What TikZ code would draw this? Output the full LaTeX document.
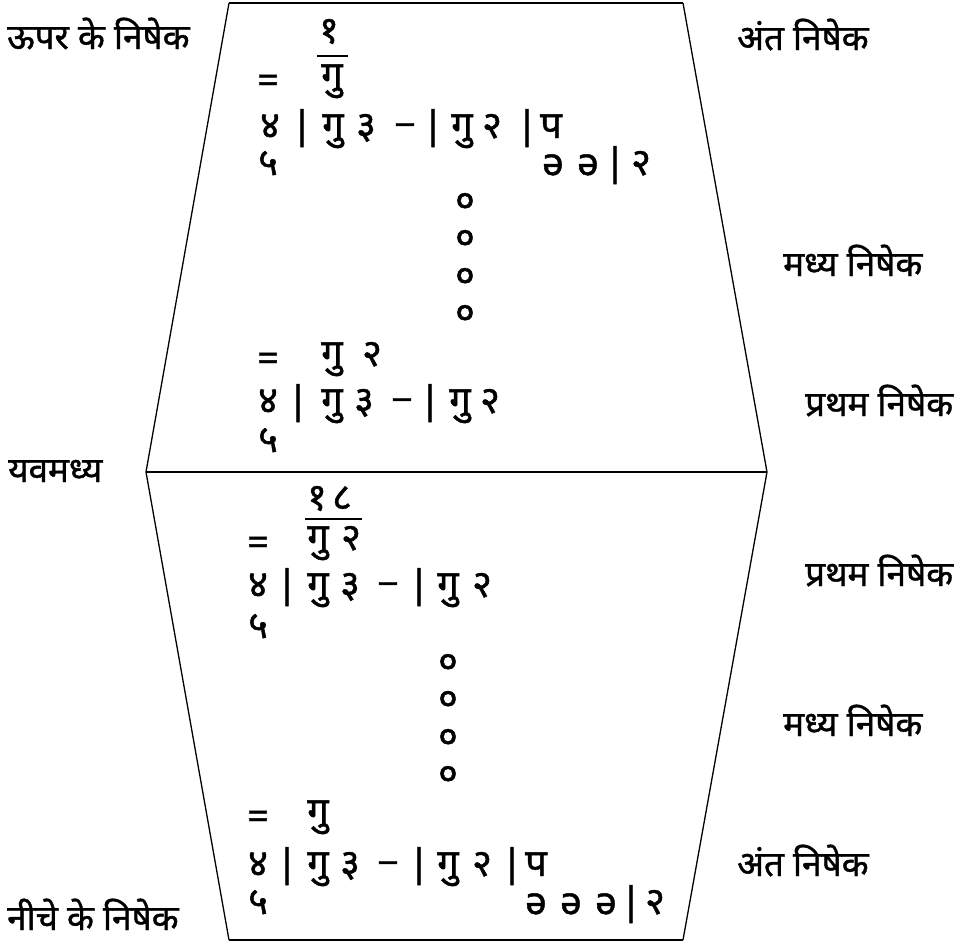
\documentclass[tikz,border=0pt]{standalone}
\usepackage{fontspec}
\newfontfamily\dev[Script=Devanagari,FakeBold=1.1]{Noto Sans}
\newfontfamily\devm[Script=Devanagari,FakeBold=1.2]{Noto Sans}
\newcommand\tk[4]{\node[tok] (#1) at (#2,#3) {#4};}
\newcommand\tc[4]{\node[tok,anchor=center] (#1) at (#2,#3) {#4};}
\begin{document}
\begin{tikzpicture}[x=1pt,y=-1pt,
  tok/.style={inner sep=0pt,anchor=base,font=\devm\fontsize{38}{44}\selectfont},
  lab/.style={inner sep=0pt,anchor=base west,font=\dev\fontsize{35}{42}\selectfont},
  edgeh/.style={line width=2.4pt},
  edges/.style={line width=1.3pt},
  fbar/.style={line width=1.5pt}]
\useasboundingbox (0,0) rectangle (964,943);
% outline
\coordinate (tl) at (229,3);
\coordinate (tr) at (683,3);
\coordinate (mr) at (767,472);
\coordinate (br) at (683,940);
\coordinate (bl) at (229,940);
\coordinate (ml) at (146,472);
\draw[edgeh] (tl) -- (tr);
\draw[edgeh] (bl) -- (br);
\draw[edgeh] (ml) -- (mr);
\draw[edges] (tr) -- (mr) -- (br);
\draw[edges] (tl) -- (ml) -- (bl);
% labels
\node[lab] (l1) at (7,49) {ऊपर के निषेक};
\node[lab] (l2) at (8,482) {यवमध्य};
\node[lab] (l3) at (7,930) {नीचे के निषेक};
\node[lab] (r1) at (737,50) {अंत निषेक};
\node[lab] (r2) at (783,276) {मध्य निषेक};
\node[lab] (r3) at (805,416) {प्रथम निषेक};
\node[lab] (r4) at (805,586) {प्रथम निषेक};
\node[lab] (r5) at (783,736) {मध्य निषेक};
\node[lab] (r6) at (737,876) {अंत निषेक};
% top block A
\tk{a1}{329}{43}{१}
\coordinate (fa1) at (317,56); \coordinate (fa2) at (348,56);
\draw[fbar] (fa1) -- (fa2);
\tc{aeq}{268}{84}{=}
\tk{agu}{332}{88}{गु}
\tk{ar1}{270}{138}{४}
\tk{ar2}{302}{138}{|}
\tk{ar3}{333}{138}{गु}
\tk{ar4}{366}{138}{३}
\tk{ar5}{405}{138}{−}
\tk{ar6}{433}{138}{|}
\tk{ar7}{462}{138}{गु}
\tk{ar8}{492}{138}{२}
\tk{ar9}{527}{138}{|}
\tk{ar10}{551}{138}{प}
\tk{as1}{268}{175}{५}
\tk{as2}{553}{175}{ə}
\tk{as3}{588}{175}{ə}
\tk{as4}{615}{175}{|}
\tk{as5}{641}{175}{२}
% top circles
\tc{c1}{465}{203}{०}
\tc{c2}{465}{240}{०}
\tc{c3}{465}{278}{०}
\tc{c4}{465}{315}{०}
% top block B
\tc{beq}{268}{362}{=}
\tk{bgu}{332}{366}{गु}
\tk{btw}{372}{366}{२}
\tk{br1}{268}{413}{४}
\tk{br2}{298}{413}{|}
\tk{br3}{332}{413}{गु}
\tk{br4}{364}{413}{३}
\tk{br5}{402}{413}{−}
\tk{br6}{430}{413}{|}
\tk{br7}{460}{413}{गु}
\tk{br8}{490}{413}{२}
\tk{bs1}{268}{452}{५}
% bottom block C
\tk{c1a}{317}{510}{१}
\tk{c1b}{342}{510}{८}
\coordinate (fc1) at (305,519); \coordinate (fc2) at (362,519);
\draw[fbar] (fc1) -- (fc2);
\tc{ceq}{258}{546}{=}
\tk{cgu}{318}{550}{गु}
\tk{ctw}{351}{550}{२}
\tk{cr1}{258}{597}{४}
\tk{cr2}{287}{597}{|}
\tk{cr3}{318}{597}{गु}
\tk{cr4}{350}{597}{३}
\tk{cr5}{388}{597}{−}
\tk{cr6}{419}{597}{|}
\tk{cr7}{448}{597}{गु}
\tk{cr8}{482}{597}{२}
\tk{cs1}{258}{638}{५}
% bottom circles
\tc{d1}{448}{664}{०}
\tc{d2}{448}{701}{०}
\tc{d3}{448}{739}{०}
\tc{d4}{448}{776}{०}
% bottom block D
\tc{deq}{258}{820}{=}
\tk{dgu}{318}{824}{गु}
\tk{dr1}{258}{876}{४}
\tk{dr2}{287}{876}{|}
\tk{dr3}{318}{876}{गु}
\tk{dr4}{350}{876}{३}
\tk{dr5}{388}{876}{−}
\tk{dr6}{419}{876}{|}
\tk{dr7}{448}{876}{गु}
\tk{dr8}{482}{876}{२}
\tk{dr9}{512}{876}{|}
\tk{dr10}{536}{876}{प}
\tk{ds1}{258}{914}{५}
\tk{ds2}{536}{914}{ə}
\tk{ds3}{571}{914}{ə}
\tk{ds4}{606}{914}{ə}
\tk{ds5}{631}{914}{|}
\tk{ds6}{655}{914}{२}
\end{tikzpicture}
\end{document}
